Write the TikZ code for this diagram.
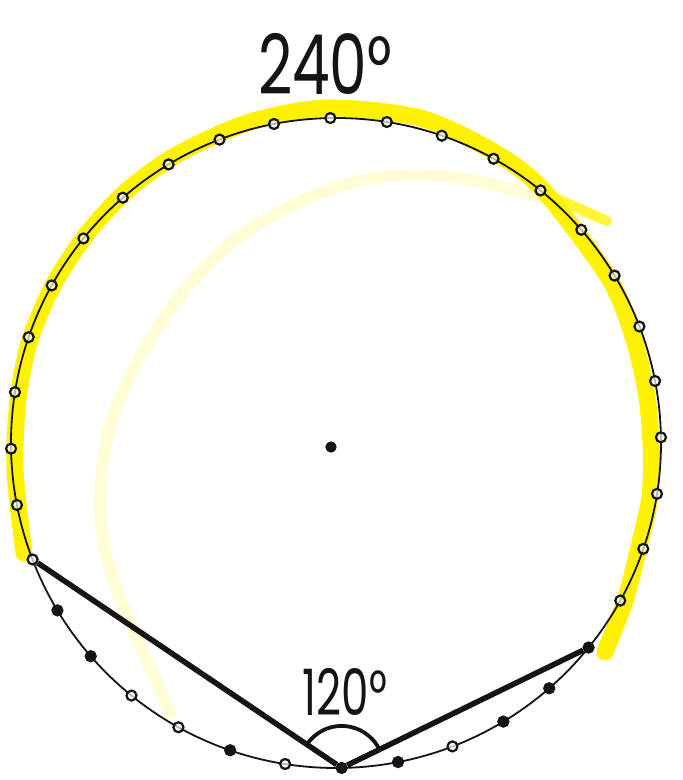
\documentclass[tikz,border=0pt]{standalone}
\usepackage{fontspec}
\setmainfont{Poppins}
\usepackage{xcolor}
\usepackage{graphicx}
\usepackage{tikz}
\usetikzlibrary{angles}
\definecolor{hlyel}{HTML}{FFF200}
\definecolor{ink}{HTML}{141414}
\tikzset{
  rim/.style    ={draw=ink, line width=1.8pt},
  hl/.style     ={draw=hlyel, line width=17pt, line cap=round, line join=round},
  hlfaint/.style={hl, line width=12pt, draw opacity=0.16},
  dot/.style    ={circle, draw=ink, line width=2.2pt, fill=white, fill opacity=0.7,
                  inner sep=0pt, minimum size=10pt},
  dotf/.style   ={dot, fill=ink, fill opacity=1},
  chord/.style  ={draw=ink, line width=5.5pt},
  angarc/.style ={draw=ink, line width=3.8pt, angle radius=42pt},
  lbl/.style    ={text=ink, inner sep=0pt},
}

\begin{document}
\begin{tikzpicture}[x=1pt,y=1pt]
\fill[white] (0,0) rectangle (683,780);
\useasboundingbox (0,0) rectangle (683,780);
\coordinate (o) at (336,337);
\draw[hlfaint] plot[smooth] coordinates {(170,67) (150,113) (123,173) (105,230) (100,280)
  (108,347) (133,410) (177,480) (235,540) (310,583) (381,603) (453,603) (524,587) (596,563)};
\draw[hl, line width=10pt, draw opacity=0.75] (558,581) -- (607,559);
\draw[hl] plot[smooth] coordinates {(24,227) (15,310) (18,380) (30,440) (55,498) (90,550)
  (130,592) (180,627) (250,658) (327,672) (420,662) (494,628) (543,590) (607,505)
  (630,453) (645,395) (651,339) (650,284) (638,229) (625,179) (605,128)};
\draw[rim] (o) circle[radius=325];
\foreach \k in {0,...,20}
  \node[dot] (d\k) at ([shift={(o)}]10*\k+1:325) {};
\foreach \k in {23,24,26,29,33,34,35}
  \node[dot] (d\k) at ([shift={(o)}]10*\k+1:325) {};
\foreach \k in {21,22,25,27,28,30,31,32}
  \node[dotf] (d\k) at ([shift={(o)}]10*\k+1:325) {};
\draw[chord] (d20) -- (d27) -- (d32);
\pic[angarc] {angle = d32--d27--d20};
\node[dotf, minimum size=9pt] (ctr) at (331,333) {};
\node[lbl, font=\fontsize{83}{90}\selectfont] (lab240) at (325,716) {\scalebox{0.72}[1]{240°}};
\node[lbl, font=\fontsize{64}{70}\selectfont] (lab120) at (345,88) {\scalebox{0.68}[1]{120°}};
\end{tikzpicture}
\end{document}
